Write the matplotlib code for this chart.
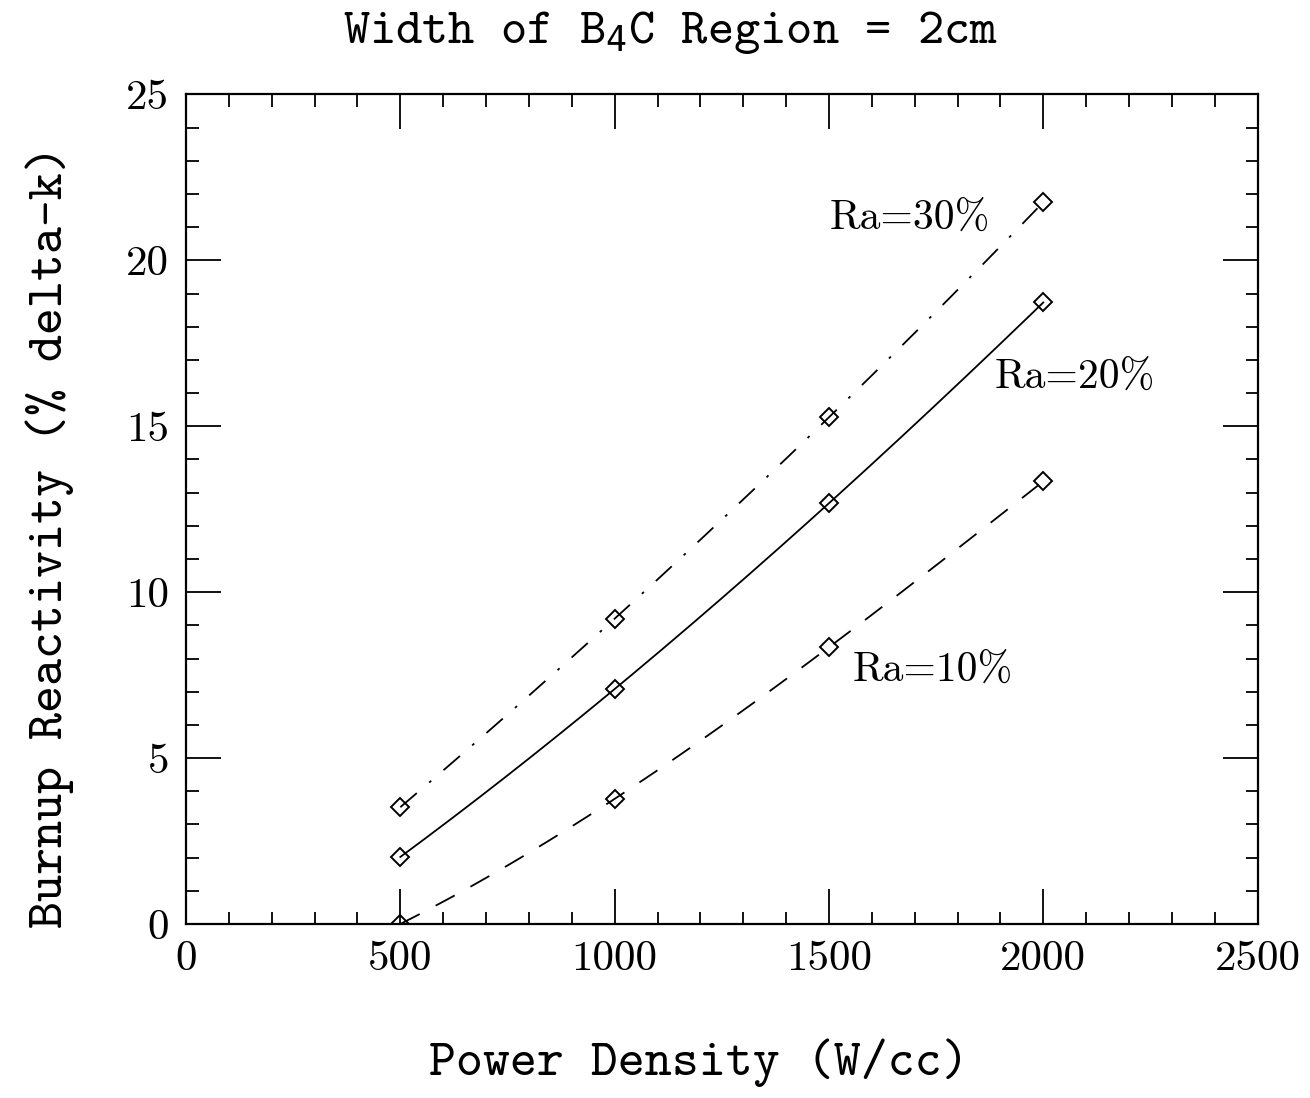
import numpy as np
import matplotlib
matplotlib.use("Agg")
import matplotlib.pyplot as plt
from matplotlib.ticker import MultipleLocator

# data
power = [500, 1000, 1500, 2000]
ra30 = [3.52, 9.20, 15.27, 21.75]
ra20 = [2.02, 7.08, 12.68, 18.73]
ra10 = [0.0, 3.77, 8.34, 13.34]
labels = ["Ra=30%", "Ra=20%", "Ra=10%"]

W, H = 1310, 1098
fig = plt.figure(figsize=(W / 100, H / 100), dpi=100)
ax = fig.add_axes([0.142, 0.1585, 0.818, 0.7555])

styles = [(0, (12, 9, 1.5, 9)), "-", (0, (12, 10))]
xs = np.linspace(power[0], power[-1], 200)
for ys, ls in zip([ra30, ra20, ra10], styles):
    # smooth curve through the four points (cubic through all of them)
    c = np.polyfit(power, ys, 3)
    ax.plot(xs, np.polyval(c, xs), color="black", lw=1.3, ls=ls)
    ax.plot(power, ys, ls="none", marker="D", ms=9, mfc="none", mec="black", mew=1.4)

rm = dict(family="cmr10", fontsize=30, color="black")
ax.text(1502, 21.27, labels[0], va="center", ha="left", **rm)
ax.text(1887, 16.48, labels[1], va="center", ha="left", **rm)
ax.text(1555, 7.65, labels[2], va="center", ha="left", **rm)

ax.set_xlim(0, 2500)
ax.set_ylim(0, 25)
ax.xaxis.set_major_locator(MultipleLocator(500))
ax.xaxis.set_minor_locator(MultipleLocator(100))
ax.yaxis.set_major_locator(MultipleLocator(5))
ax.yaxis.set_minor_locator(MultipleLocator(1))
ax.tick_params(which="both", direction="in", top=True, right=True, width=1.3)
ax.tick_params(which="major", length=25, pad=12)
ax.tick_params(which="minor", length=9)
for lab in ax.get_xticklabels() + ax.get_yticklabels():
    lab.set_family("cmr10")
    lab.set_fontsize(31)
for sp in ax.spines.values():
    sp.set_linewidth(1.6)

tt = dict(family="cmtt10", fontsize=37, ha="center", va="center")
fig.text(699 / W, 1 - 1063 / H, "Power Density (W/cc)", **tt)
fig.text(50 / W, 1 - 537 / H, "Burnup Reactivity (% delta-k)", rotation=90, **tt)
fig.text(670 / W, 1 - 32 / H, r"Width of B$_{\mathtt{4}}$C Region = 2cm",
         family="cmtt10", fontsize=36, ha="center", va="center")

fig.savefig("out.png", dpi=100)
